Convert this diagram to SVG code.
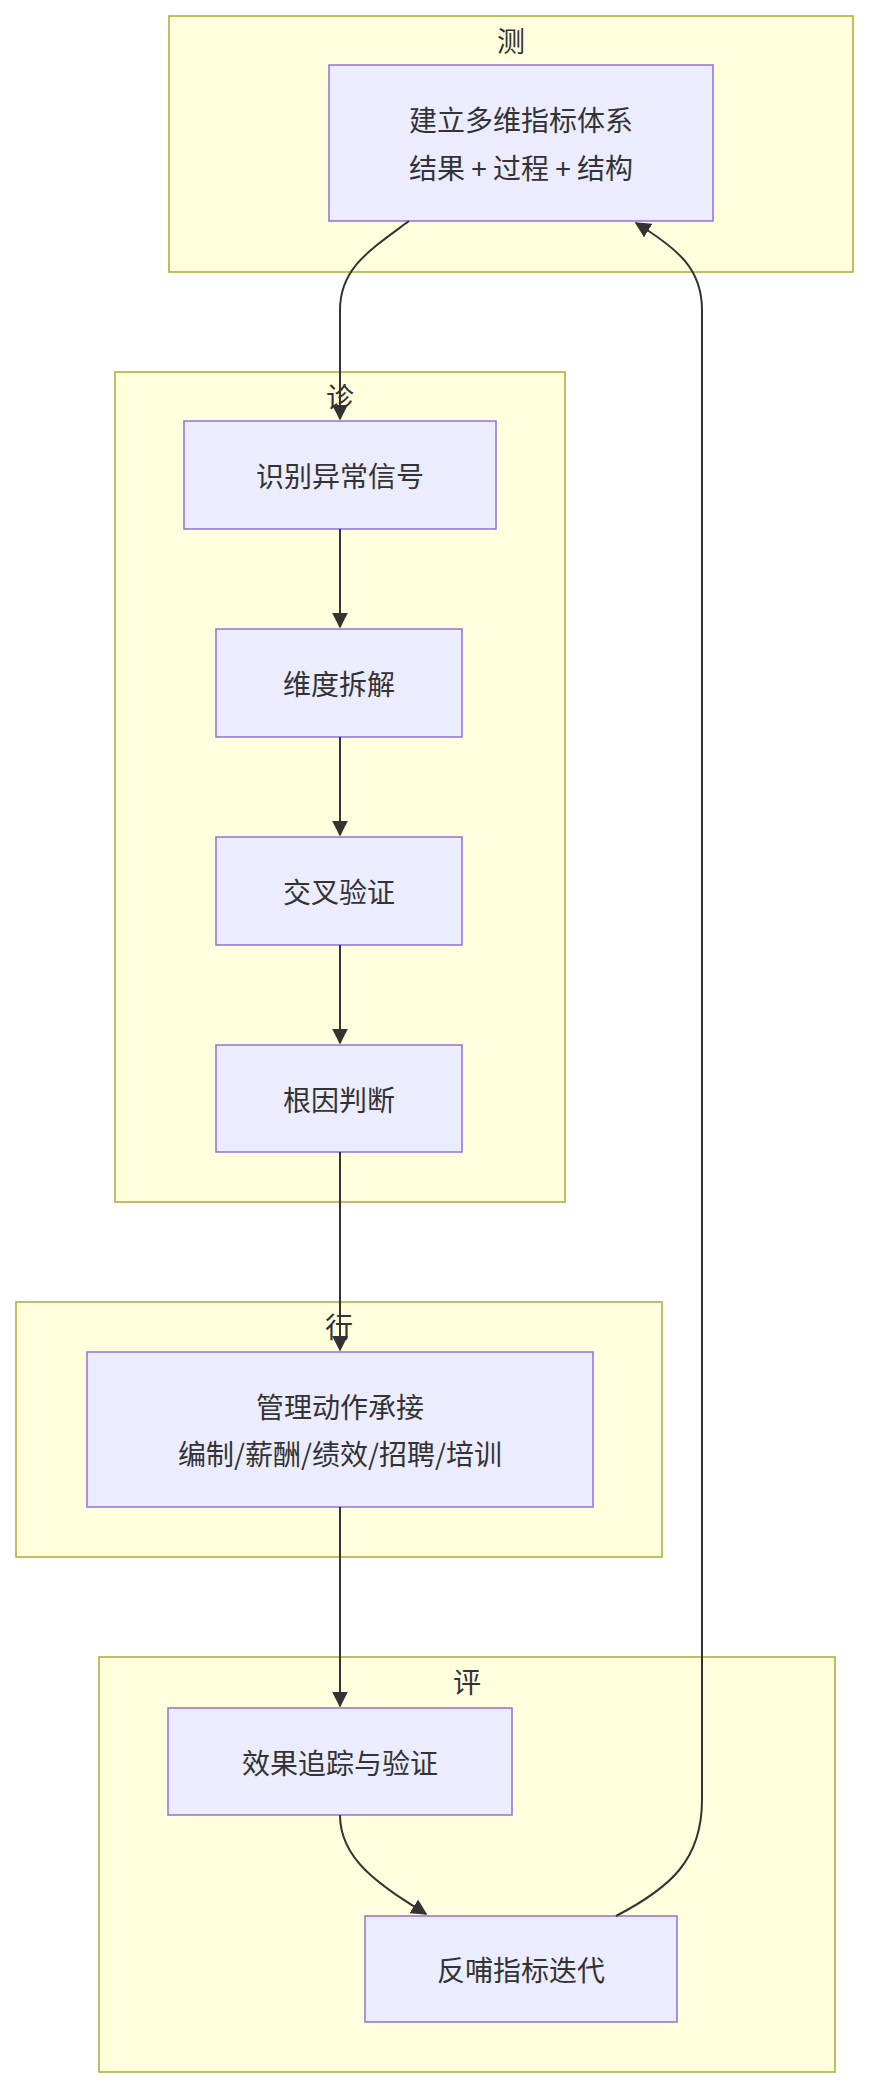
<svg xmlns="http://www.w3.org/2000/svg" width="870" height="2092" viewBox="0 0 870 2092">
<style>
.c{fill:#ffffde;stroke:#aaaa33;stroke-width:1.5}
.n{fill:#ececff;stroke:#9370db;stroke-width:1.5}
text{font-family:"Noto Sans CJK SC","Liberation Sans",sans-serif;font-size:28px;fill:#333;text-anchor:middle;dominant-baseline:central}
.e{fill:none;stroke:#333;stroke-width:2;marker-end:url(#a)}
</style>
<defs><marker id="a" viewBox="0 0 10 10" refX="9" refY="5" markerWidth="8" markerHeight="8" orient="auto"><path d="M0,0L10,5L0,10z" fill="#333"/></marker></defs>
<g id="cluster-ce"><rect class="c" x="169" y="16" width="684" height="256"/><text x="511" y="40">测</text></g>
<g id="cluster-zhen"><rect class="c" x="115" y="372" width="450" height="830"/><text x="340" y="396">诊</text></g>
<g id="cluster-xing"><rect class="c" x="16" y="1302" width="646" height="255"/><text x="339" y="1326">行</text></g>
<g id="cluster-ping"><rect class="c" x="99" y="1657" width="736" height="415"/><text x="467" y="1681">评</text></g>
<g id="A"><rect class="n" x="329" y="65" width="384" height="156"/><text x="521" y="119">建立多维指标体系</text><text x="521" y="167">结果 + 过程 + 结构</text></g>
<g id="B"><rect class="n" x="184" y="421" width="312" height="108"/><text x="340" y="475">识别异常信号</text></g>
<g id="C"><rect class="n" x="216" y="629" width="246" height="108"/><text x="339" y="683">维度拆解</text></g>
<g id="D"><rect class="n" x="216" y="837" width="246" height="108"/><text x="339" y="891">交叉验证</text></g>
<g id="E"><rect class="n" x="216" y="1045" width="246" height="107"/><text x="339" y="1099">根因判断</text></g>
<g id="F"><rect class="n" x="87" y="1352" width="506" height="155"/><text x="340" y="1406">管理动作承接</text><text x="340" y="1453">编制/薪酬/绩效/招聘/培训</text></g>
<g id="G"><rect class="n" x="168" y="1708" width="344" height="107"/><text x="340" y="1762">效果追踪与验证</text></g>
<g id="H"><rect class="n" x="365" y="1916" width="312" height="106"/><text x="521" y="1969">反哺指标迭代</text></g>
<g id="edges">
<path class="e" d="M409,221C370,250 340,268 340,310L340,419"/>
<path class="e" d="M340,529L340,627"/>
<path class="e" d="M340,737L340,835"/>
<path class="e" d="M340,945L340,1043"/>
<path class="e" d="M340,1152L340,1350"/>
<path class="e" d="M340,1507L340,1706"/>
<path class="e" d="M340,1815C340,1860 380,1885 426,1914"/>
<path class="e" d="M616,1916C670,1888 702,1860 702,1800L702,310C702,270 680,250 636,223"/>
</g>
</svg>
